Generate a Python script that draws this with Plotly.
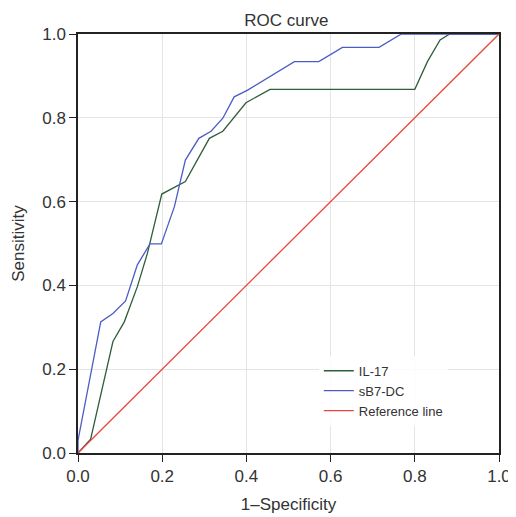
import plotly.graph_objects as go

# ROC points
il17_fpr = [0.0, 0.03, 0.083, 0.110, 0.141, 0.165, 0.199, 0.255, 0.312, 0.344, 0.399, 0.456, 0.80, 0.830, 0.860, 0.883, 1.0]
il17_tpr = [0.0, 0.033, 0.266, 0.313, 0.397, 0.477, 0.618, 0.648, 0.751, 0.768, 0.836, 0.868, 0.868, 0.934, 0.986, 1.0, 1.0]

sb7_fpr = [0.0, 0.0, 0.054, 0.083, 0.113, 0.141, 0.171, 0.198, 0.229, 0.255, 0.287, 0.316, 0.344, 0.371, 0.403, 0.514, 0.572, 0.628, 0.715, 0.768, 1.0]
sb7_tpr = [0.0, 0.03, 0.313, 0.333, 0.363, 0.449, 0.499, 0.499, 0.588, 0.699, 0.751, 0.768, 0.799, 0.850, 0.866, 0.934, 0.934, 0.968, 0.968, 1.0, 1.0]

ref_x = [0.0, 1.0]
ref_y = [0.0, 1.0]

ticks = [0.0, 0.2, 0.4, 0.6, 0.8, 1.0]
tick_text = ["0.0", "0.2", "0.4", "0.6", "0.8", "1.0"]

fig = go.Figure()
fig.add_trace(go.Scatter(x=il17_fpr, y=il17_tpr, mode="lines", name="IL-17",
                         line=dict(color="#2e5e3a", width=1.3)))
fig.add_trace(go.Scatter(x=sb7_fpr, y=sb7_tpr, mode="lines", name="sB7-DC",
                         line=dict(color="#4b5cc4", width=1.3)))
fig.add_trace(go.Scatter(x=ref_x, y=ref_y, mode="lines", name="Reference line",
                         line=dict(color="#e8453c", width=1.3)))

axis_common = dict(range=[0, 1], tickvals=ticks, ticktext=tick_text,
                   showgrid=True, gridcolor="#e4e4e4", gridwidth=1,
                   showline=True, linecolor="#222", linewidth=1.5, mirror=True,
                   ticks="outside", ticklen=7, tickcolor="#222", tickwidth=1.3,
                   zeroline=False, automargin=False,
                   tickfont=dict(size=17, color="#333"),
                   title_font=dict(size=17, color="#333"))

# page has an 8px body margin, so the figure is a bit smaller than the window
fig.update_layout(
    width=508, height=509,
    margin=dict(l=70, r=17, t=26, b=64),
    paper_bgcolor="white", plot_bgcolor="white",
    font=dict(family="Liberation Sans, Arial, sans-serif", color="#333"),
    title=dict(text="ROC curve", x=0.548, xanchor="center", y=0.976, yanchor="middle",
               font=dict(size=17, color="#333")),
    xaxis=dict(axis_common, title=dict(text="1\u2013Specificity", standoff=13)),
    yaxis=dict(axis_common, title=dict(text="Sensitivity", standoff=13)),
    legend=dict(x=0.572, y=0.232, xanchor="left", yanchor="top",
                bgcolor="rgba(255,255,255,0.85)", font=dict(size=13, color="#333"),
                tracegroupgap=0, itemwidth=30),
    showlegend=True,
)

fig.write_html("out.html")
